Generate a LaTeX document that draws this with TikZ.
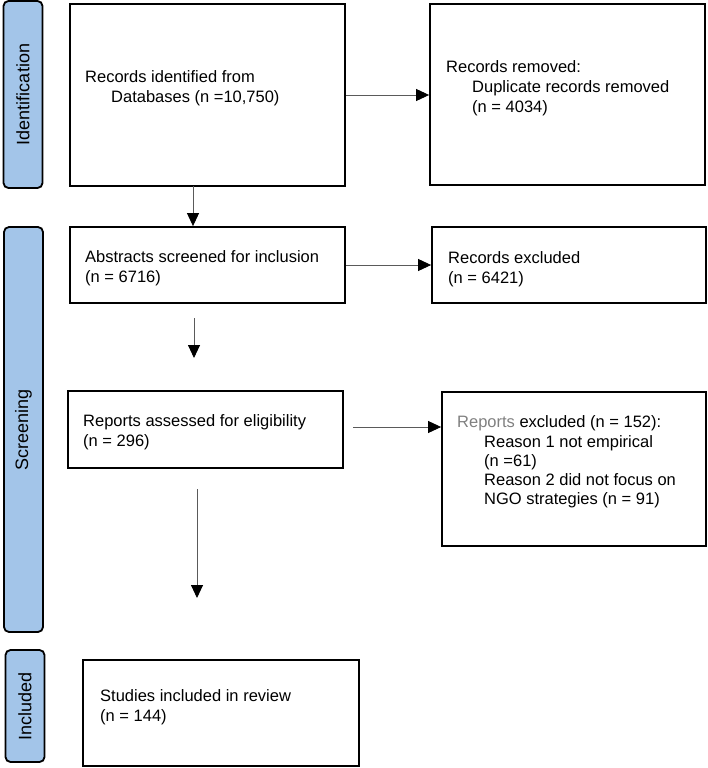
\documentclass[tikz,border=0pt]{standalone}
\usepackage{fontspec}
\setmainfont{Liberation Sans}
\usetikzlibrary{arrows.meta,calc}
\definecolor{stageblue}{RGB}{163,197,233}
\definecolor{linegray}{RGB}{90,90,90}
\begin{document}
\begin{tikzpicture}[x=1pt,y=-1pt,
 box/.style={draw=black, line width=1.8pt, inner sep=0pt},
 stage/.style={draw=black, line width=1.8pt, fill=stageblue, rounded corners=5pt, rotate=90, minimum height=39pt, inner sep=0pt, font=\fontsize{18}{20}\selectfont},
 txt/.style={anchor=north west, inner sep=0pt, align=left, font=\fontsize{16.5}{20}\selectfont},
 arr/.style={draw=linegray, line width=0.9pt, -{Triangle[length=13pt,width=12pt,color=black,fill=black]}},
]
\useasboundingbox (0,0) rectangle (708,768);

% stage labels
\node[stage, minimum width=187pt] (sid) at (23,94.5) {Identification};
\node[stage, minimum width=405pt] (ssc) at (23.5,429.5) {Screening};
\node[stage, minimum width=112pt] (sin) at (25,706) {Included};

% boxes
\node[box, minimum width=275pt, minimum height=182pt] (b1) at (207.5,95) {};
\node[box, minimum width=275pt, minimum height=181pt] (b2) at (567.5,94.5) {};
\node[box, minimum width=275pt, minimum height=76pt] (b3) at (207.5,265) {};
\node[box, minimum width=274pt, minimum height=76pt] (b4) at (569,265) {};
\node[box, minimum width=275pt, minimum height=77pt] (b5) at (205.5,429.5) {};
\node[box, minimum width=264pt, minimum height=154pt] (b6) at (574,469) {};
\node[box, minimum width=276pt, minimum height=106pt] (b7) at (221,713) {};

% texts
\node[txt] (t1) at (85,68) {\strut Records identified from\\\hspace*{26pt}Databases (n =10,750)};
\node[txt] (t2) at (446,58) {\strut Records removed:\\\hspace*{26pt}Duplicate records removed\\\hspace*{26pt}(n = 4034)};
\node[txt] (t3) at (85,248) {\strut Abstracts screened for inclusion\\(n = 6716)};
\node[txt] (t4) at (448,249) {\strut Records excluded\\(n = 6421)};
\node[txt] (t5) at (83,412) {\strut Reports assessed for eligibility\\(n = 296)};
\node[txt, font=\fontsize{16.5}{19.3}\selectfont] (t6) at (457,414) {\strut{\color{gray}Reports} excluded (n = 152):\\\hspace*{27pt}Reason 1 not empirical\\\hspace*{27pt}(n =61)\\\hspace*{27pt}Reason 2 did not focus on\\\hspace*{27pt}NGO strategies (n = 91)};
\node[txt] (t7) at (100,687) {\strut Studies included in review\\(n = 144)};

% free arrow ends
\coordinate (a2s) at (193,186);
\coordinate (f1s) at (194,318);
\coordinate (f1e) at (194,358);
\coordinate (f2s) at (353,427);
\coordinate (f3s) at (197,489);
\coordinate (f3e) at (197,598);

% connectors
\draw[arr] (b1.east) -- (b1.east -| b2.west);
\draw[arr] (a2s) -- (a2s |- b3.north);
\draw[arr] (b3.east) -- (b3.east -| b4.west);
\draw[arr] (f1s) -- (f1e);
\draw[arr] (f2s) -- (f2s -| b6.west);
\draw[arr] (f3s) -- (f3e);
\end{tikzpicture}
\end{document}
